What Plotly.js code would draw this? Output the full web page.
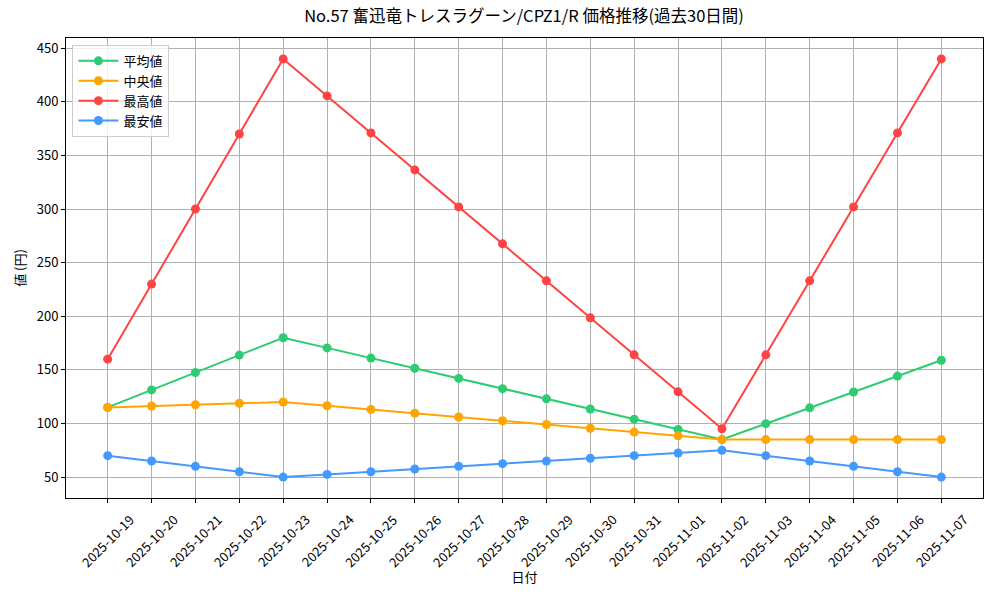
<!DOCTYPE html>
<html>
<head>
<meta charset="utf-8">
<script src="https://cdn.plot.ly/plotly-3.0.1.min.js"></script>
<style>html,body{margin:0;padding:0;background:#fff;}#chart{width:1000px;height:600px;}</style>
</head>
<body>
<div id="chart"></div>
<script>
const dates = ["2025-10-19","2025-10-20","2025-10-21","2025-10-22","2025-10-23","2025-10-24","2025-10-25","2025-10-26","2025-10-27","2025-10-28","2025-10-29","2025-10-30","2025-10-31","2025-11-01","2025-11-02","2025-11-03","2025-11-04","2025-11-05","2025-11-06","2025-11-07"];
const avgValues = [115, 131.3, 147.5, 163.8, 180, 170.5, 161, 151.5, 142, 132.5, 123, 113.5, 104, 94.5, 85, 99.8, 114.6, 129.4, 144.2, 159];
const medianValues = [115, 116.3, 117.5, 118.8, 120, 116.5, 113, 109.5, 106, 102.5, 99, 95.5, 92, 88.5, 85, 85, 85, 85, 85, 85];
const maxValues = [160, 230, 300, 370, 440, 405.5, 371, 336.5, 302, 267.5, 233, 198.5, 164, 129.5, 95, 164, 233, 302, 371, 440];
const minValues = [70, 65, 60, 55, 50, 52.5, 55, 57.5, 60, 62.5, 65, 67.5, 70, 72.5, 75, 70, 65, 60, 55, 50];
const seriesNames = ["平均値", "中央値", "最高値", "最安値"];
const seriesColors = ["#2ecc71", "#ffa500", "#ff4444", "#4499ff"];
const yTicks = [50, 100, 150, 200, 250, 300, 350, 400, 450];

const FONT = "'Noto Sans CJK JP', 'DejaVu Sans', sans-serif";
const allSeries = [avgValues, medianValues, maxValues, minValues];
const traces = allSeries.map((vals, i) => ({
  x: dates,
  y: vals,
  name: seriesNames[i],
  type: 'scatter',
  mode: 'lines+markers',
  line: {color: seriesColors[i], width: 2},
  marker: {color: seriesColors[i], size: 9}
}));

// x tick labels centred on their ticks, rotated 45°
const tickAnnotations = dates.map(d => ({
  x: d, xref: 'x', y: -0.02, yref: 'paper',
  text: d, showarrow: false, textangle: -45,
  xanchor: 'center', yanchor: 'top',
  font: {family: FONT, size: 13, color: '#000'}
}));

const layout = {
  width: 1000, height: 600,
  paper_bgcolor: '#ffffff', plot_bgcolor: '#ffffff',
  font: {family: FONT, size: 12, color: '#000'},
  margin: {l: 66, r: 17, t: 38, b: 102},
  title: {text: 'No.57 奮迅竜トレスラグーン/CPZ1/R 価格推移(過去30日間)', font: {family: FONT, size: 16.5, color: '#000'}, x: 0.524, xanchor: 'center', y: 0.973, yanchor: 'middle'},
  xaxis: {
    type: 'category', range: [-0.95, 19.95],
    showticklabels: false, showgrid: true, gridcolor: '#b0b0b0', gridwidth: 1,
    showline: true, linecolor: '#000', linewidth: 1, mirror: true,
    ticks: 'outside', ticklen: 4, tickcolor: '#000',
    title: {text: '日付', font: {family: FONT, size: 13}, standoff: 70},
    zeroline: false
  },
  yaxis: {
    range: [30.5, 459.5], tickvals: yTicks,
    showgrid: true, gridcolor: '#b0b0b0', gridwidth: 1,
    showline: true, linecolor: '#000', linewidth: 1, mirror: true,
    ticks: 'outside', ticklen: 4, tickcolor: '#000',
    tickfont: {family: FONT, size: 13},
    title: {text: '値 (円)', font: {family: FONT, size: 13}, standoff: 8},
    zeroline: false
  },
  annotations: tickAnnotations,
  legend: {
    x: 0.007, y: 0.985, xanchor: 'left', yanchor: 'top',
    bgcolor: 'rgba(255,255,255,0.8)', bordercolor: '#cccccc', borderwidth: 1,
    font: {family: FONT, size: 13}, itemwidth: 40, tracegroupgap: 0
  },
  showlegend: true
};

Plotly.newPlot('chart', traces, layout, {displayModeBar: false, staticPlot: true});
</script>
</body>
</html>
